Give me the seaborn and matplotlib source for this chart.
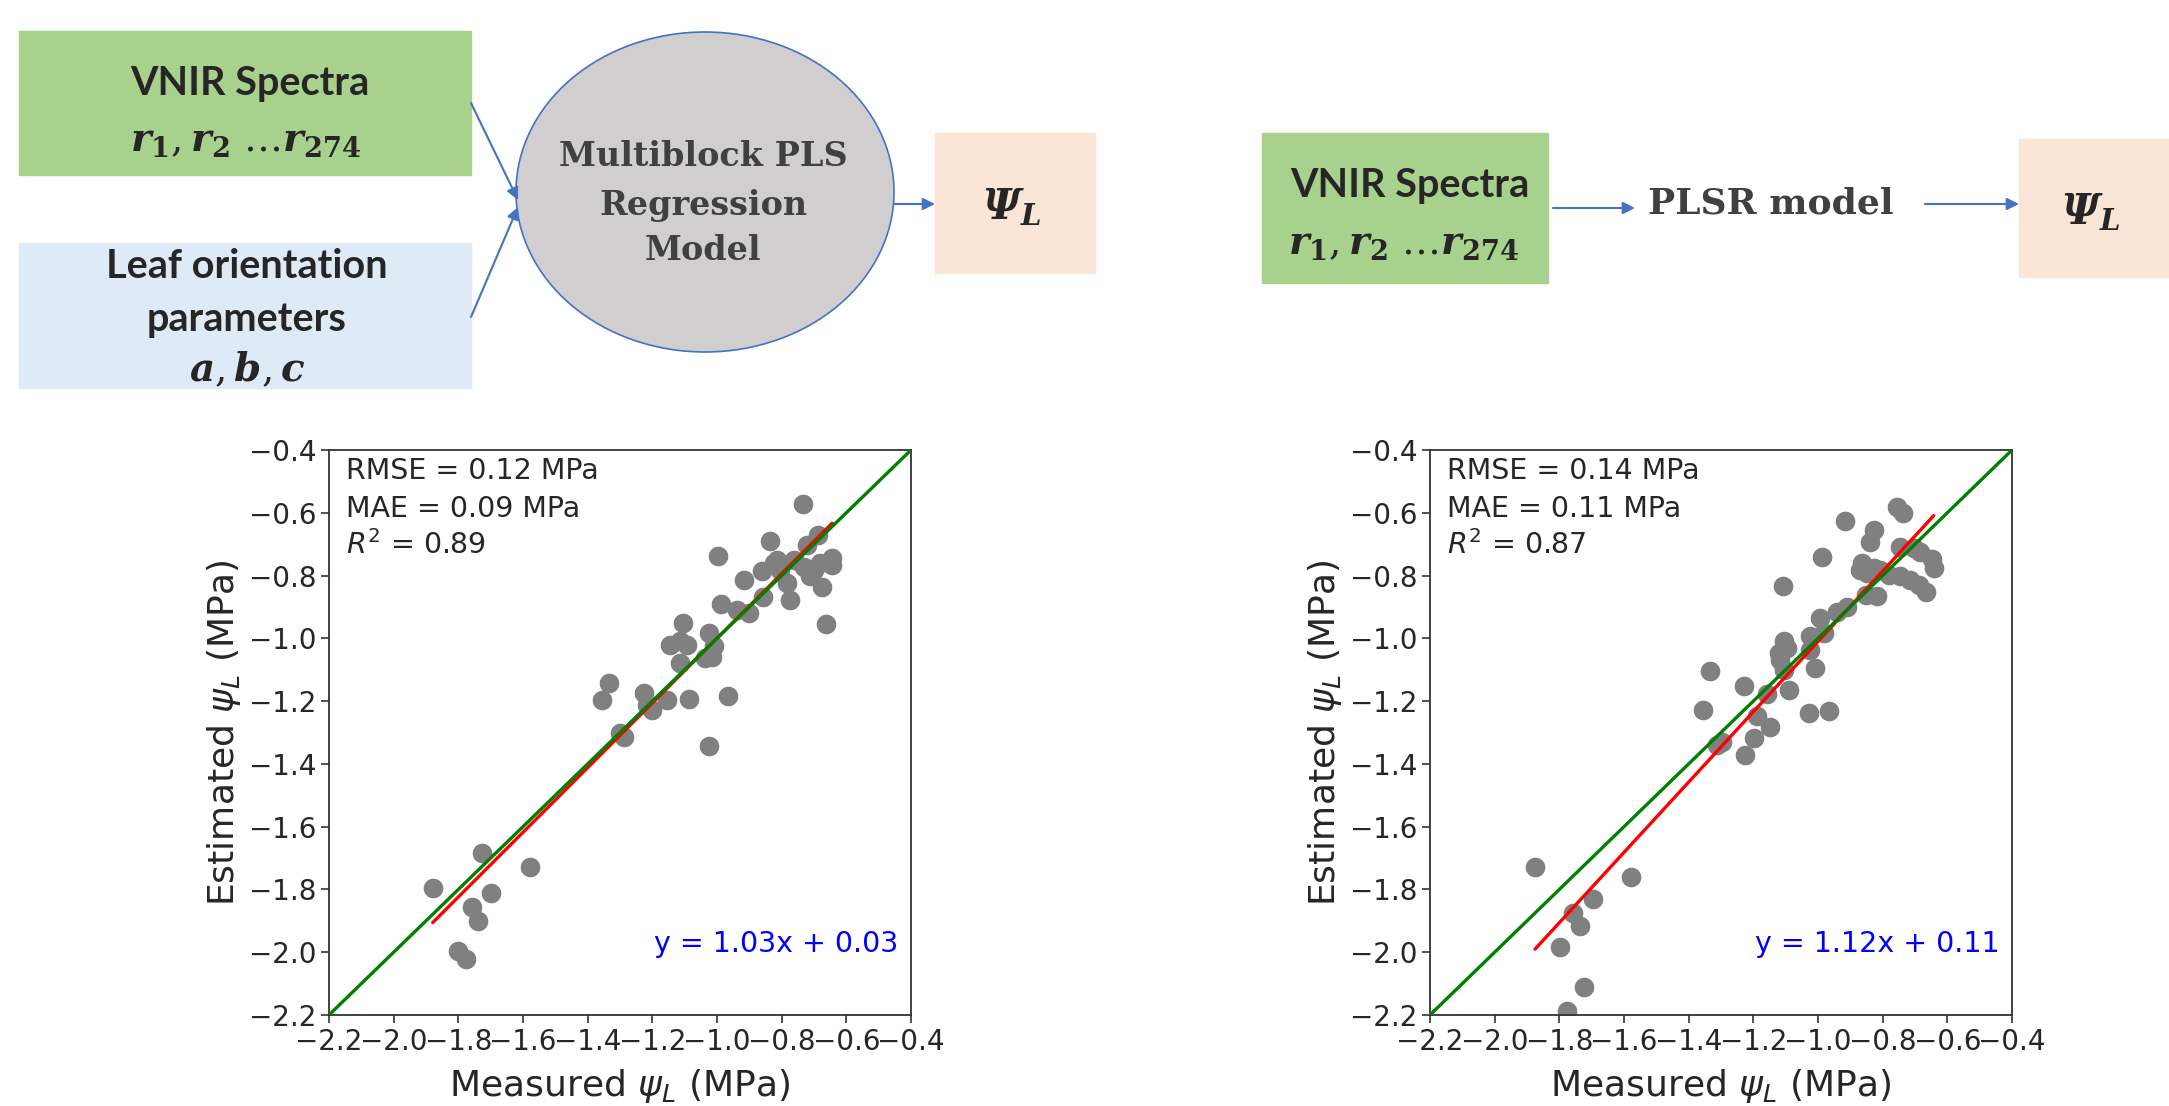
import numpy as np
import pandas as pd
import matplotlib
matplotlib.use("Agg")
import matplotlib.pyplot as plt
from matplotlib.patches import Rectangle, Ellipse
import seaborn as sns

# measured vs estimated leaf water potential (MPa)
mb_measured = [-0.733, -0.837, -0.998, -0.688, -0.721, -0.824, -0.861, -0.814, -0.804,
               -0.644, -0.644, -0.917, -0.783, -0.675, -0.711, -0.700, -0.731, -0.762,
               -0.680, -0.857, -0.775, -0.987, -0.938, -0.902, -0.664, -1.105, -1.026,
               -1.144, -1.114, -1.093, -1.010, -1.015, -1.036, -1.113, -1.335, -1.356,
               -1.227, -1.201, -1.216, -1.155, -1.087, -0.967, -1.299, -1.289, -1.026,
               -1.727, -1.578, -1.879, -1.699, -1.758, -1.738, -1.800, -1.776]
mb_estimated = [-0.572, -0.689, -0.737, -0.671, -0.703, -0.761, -0.787, -0.750, -0.782,
                -0.745, -0.766, -0.814, -0.825, -0.835, -0.803, -0.782, -0.772, -0.750,
                -0.761, -0.867, -0.878, -0.890, -0.910, -0.920, -0.954, -0.952, -0.982,
                -1.021, -1.010, -1.021, -1.026, -1.058, -1.063, -1.079, -1.143, -1.196,
                -1.175, -1.228, -1.212, -1.196, -1.194, -1.183, -1.302, -1.313, -1.343,
                -1.684, -1.727, -1.796, -1.812, -1.856, -1.899, -1.995, -2.022]

pls_measured = [-0.755, -0.736, -0.917, -0.828, -0.840, -0.987, -0.745, -0.704, -0.683,
                -0.647, -0.642, -0.864, -0.869, -0.848, -0.828, -0.807, -0.781, -0.745,
                -0.714, -0.688, -0.667, -1.108, -0.853, -0.817, -0.910, -0.941, -0.995,
                -0.982, -1.024, -1.106, -1.096, -1.122, -1.116, -1.024, -1.008, -1.335,
                -1.106, -1.091, -1.228, -1.356, -1.029, -0.967, -1.158, -1.189, -1.148,
                -1.197, -1.297, -1.312, -1.225,
                -1.875, -1.579, -1.696, -1.758, -1.735, -1.798, -1.725, -1.777]
pls_estimated = [-0.581, -0.602, -0.625, -0.655, -0.692, -0.740, -0.708, -0.713, -0.724,
                 -0.748, -0.777, -0.761, -0.782, -0.793, -0.777, -0.782, -0.798, -0.803,
                 -0.814, -0.830, -0.851, -0.833, -0.862, -0.865, -0.899, -0.915, -0.936,
                 -0.984, -0.994, -1.010, -1.032, -1.047, -1.069, -1.037, -1.095, -1.104,
                 -1.101, -1.164, -1.152, -1.228, -1.239, -1.230, -1.177, -1.249, -1.281,
                 -1.318, -1.329, -1.339, -1.371,
                 -1.729, -1.761, -1.829, -1.876, -1.918, -1.984, -2.111, -2.186]

mb_stats = ["RMSE = 0.12 MPa", "MAE = 0.09 MPa", "$R^2$ = 0.89"]
pls_stats = ["RMSE = 0.14 MPa", "MAE = 0.11 MPa", "$R^2$ = 0.87"]
mb_fit = (1.03, 0.03)
pls_fit = (1.12, 0.11)
axis_lims = [-2.2, -0.4]
tick_vals = [-2.2, -2.0, -1.8, -1.6, -1.4, -1.2, -1.0, -0.8, -0.6, -0.4]

sns.set_style("ticks")
plt.rcParams["font.family"] = ["DejaVu Sans"]

fig = plt.figure(figsize=(21.69, 11.06), dpi=100)

# ---- diagram layer, in pixel coordinates ----
dg = fig.add_axes([0, 0, 1, 1])
dg.set_xlim(0, 2169)
dg.set_ylim(1106, 0)
dg.axis("off")

green = "#A9D18E"
lblue = "#DEEBF7"
peach = "#FBE5D6"
arrow_c = "#4472C4"
slab = "#404040"

dg.add_patch(Rectangle((19, 31), 452, 144, color=green))
dg.add_patch(Rectangle((19, 243), 452, 145, color=lblue))
dg.add_patch(Rectangle((935, 133), 160, 140, color=peach))
dg.add_patch(Ellipse((705, 192), 378, 320, fc="#D0CECE", ec=arrow_c, lw=1.2))
dg.add_patch(Rectangle((1262, 133), 286, 150, color=green))
dg.add_patch(Rectangle((2019, 139), 160, 138, color=peach))

box_font = dict(family="Lato", weight="bold", fontsize=28.5, ha="center", va="center")
r_line = r"$\mathbfit{r}_\mathbf{1}, \mathbfit{r}_\mathbf{2}\ \ldots \mathbfit{r}_\mathbf{274}$"
psi = r"$\mathbfit{\Psi}_\mathbfit{L}$"

dg.text(250, 83, "VNIR Spectra", **box_font)
dg.text(245, 140, r_line, fontsize=28, ha="center", va="center", math_fontfamily="dejavuserif")
dg.text(247, 267, "Leaf orientation", **box_font)
dg.text(247, 320, "parameters", **box_font)
dg.text(247, 370, r"$\mathbfit{a}, \mathbfit{b}, \mathbfit{c}$", fontsize=28,
        ha="center", va="center", math_fontfamily="dejavuserif")
for txt, yy in [("Multiblock PLS", 157), ("Regression", 205), ("Model", 250)]:
    dg.text(703, yy, txt, family="DejaVu Serif", weight="bold", fontsize=24,
            color=slab, ha="center", va="center")
dg.text(1012, 207, psi, fontsize=30, ha="center", va="center", math_fontfamily="dejavuserif")

dg.text(1410, 185, "VNIR Spectra", **box_font)
dg.text(1403, 243, r_line, fontsize=28, ha="center", va="center", math_fontfamily="dejavuserif")
dg.text(1771, 203, "PLSR model", family="DejaVu Serif", weight="bold", fontsize=26,
        color=slab, ha="center", va="center")
dg.text(2091, 212, psi, fontsize=30, ha="center", va="center", math_fontfamily="dejavuserif")

arrow_kw = dict(arrowstyle="-|>", color=arrow_c, lw=1.5, mutation_scale=18, shrinkA=0, shrinkB=0)
for start, end in [((471, 103), (518, 200)), ((471, 317), (518, 207)), ((894, 204), (935, 204)),
                   ((1553, 208), (1635, 208)), ((1925, 204), (2019, 204))]:
    dg.annotate("", xy=end, xytext=start, arrowprops=arrow_kw)

# ---- the two scatter panels ----
W, H = 2169, 1106
panels = [
    (329, mb_measured, mb_estimated, mb_stats, mb_fit),
    (1430, pls_measured, pls_estimated, pls_stats, pls_fit),
]
for left, meas, est, stats, fit in panels:
    ax = fig.add_axes([left / W, (H - 1015) / H, 582 / W, 565 / H])
    df = pd.DataFrame({"measured": meas, "estimated": est})
    sns.scatterplot(data=df, x="measured", y="estimated", ax=ax, color="grey",
                    s=200, linewidth=0, alpha=1, zorder=2)
    xs = np.array([df["measured"].min(), df["measured"].max()])
    ax.plot(xs, fit[0] * xs + fit[1], color="red", lw=2.4, zorder=3)
    ax.plot(axis_lims, axis_lims, color="green", lw=2.4, zorder=4)
    ax.set_xlim(axis_lims)
    ax.set_ylim(axis_lims)
    ax.set_xticks(tick_vals)
    ax.set_yticks(tick_vals)
    ax.tick_params(labelsize=20, length=6, width=1.2, color="#333333", pad=3)
    for sp in ax.spines.values():
        sp.set_linewidth(1.3)
        sp.set_color("#333333")
    ax.set_xlabel(r"Measured $\psi_L$ (MPa)", fontsize=26, labelpad=8)
    ax.set_ylabel(r"Estimated $\psi_L$ (MPa)", fontsize=26, labelpad=4)
    for txt, yy in zip(stats, [0.963, 0.896, 0.832]):
        ax.text(0.03, yy, txt, transform=ax.transAxes, fontsize=20.5, va="center", ha="left")
    ax.text(0.978, 0.126, f"y = {fit[0]:.2f}x + {fit[1]:.2f}", transform=ax.transAxes,
            fontsize=20.5, color="blue", ha="right", va="center")

fig.savefig("out.png", dpi=100)
